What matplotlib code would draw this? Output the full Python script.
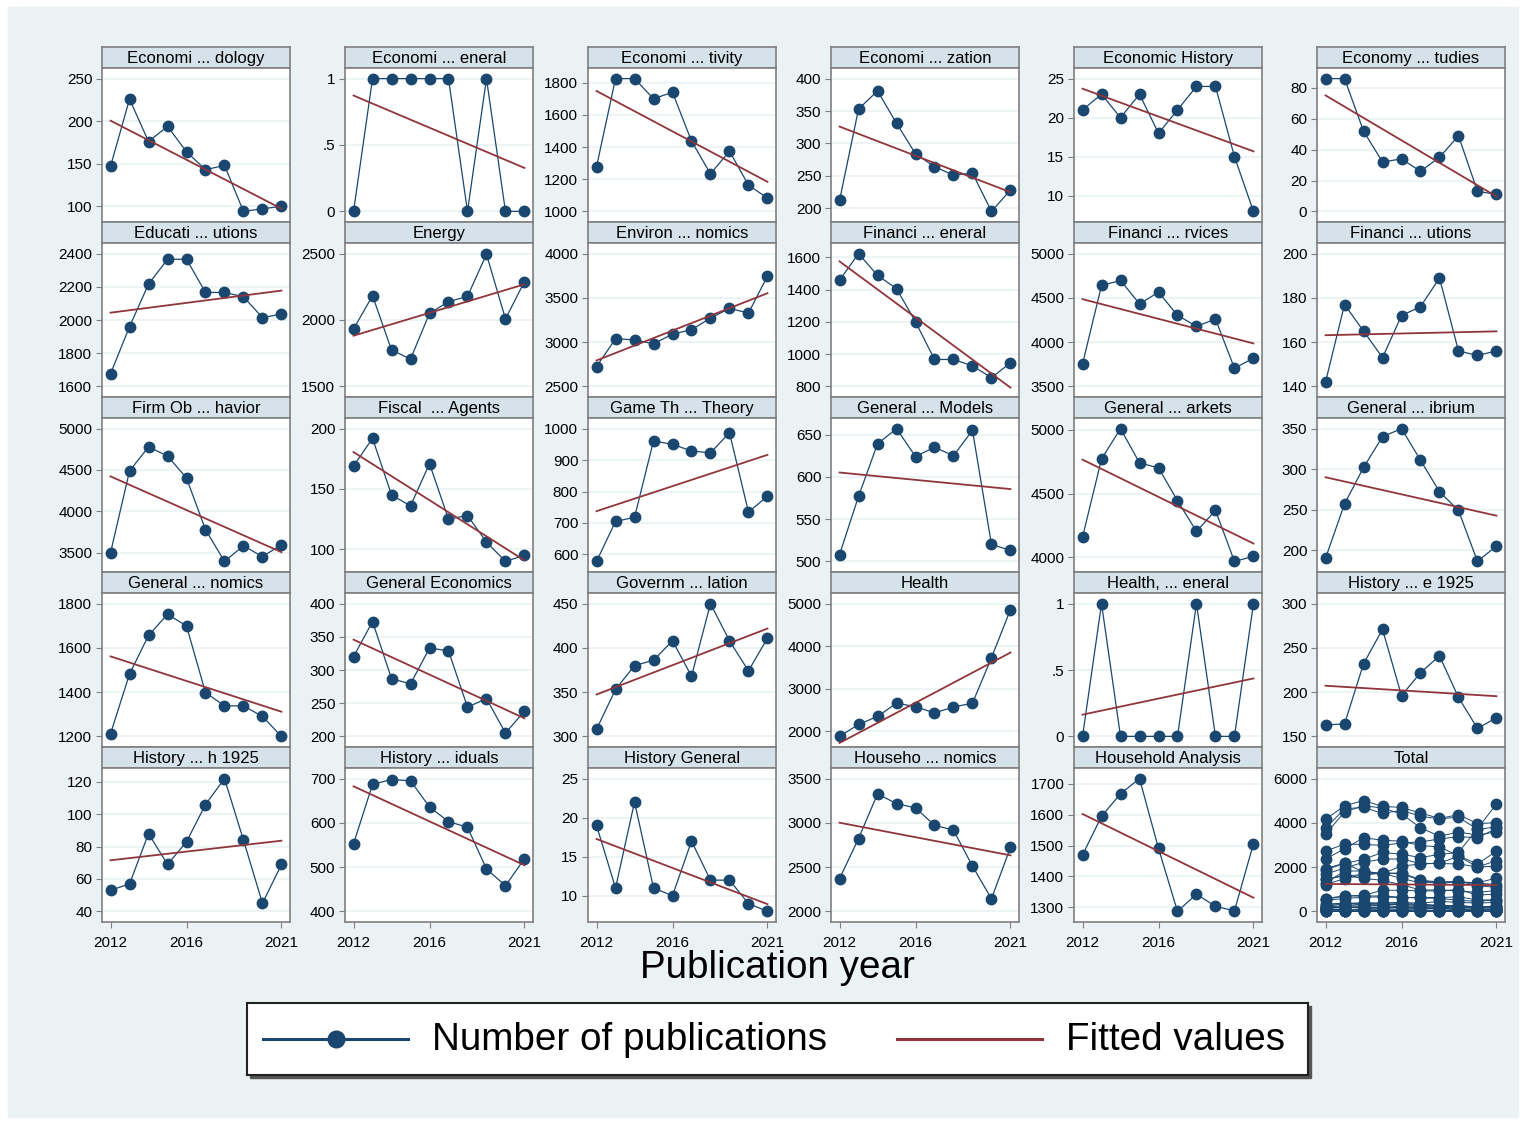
import numpy as np
import matplotlib.pyplot as plt
from matplotlib.patches import Rectangle

plt.rcParams['font.family'] = ['Liberation Sans', 'DejaVu Sans']

# publication years
years = np.arange(2012, 2022)

# panel titles (as shown in the strips)
titles = [
    "Economi ... dology", "Economi ... eneral", "Economi ... tivity",
    "Economi ... zation", "Economic History", "Economy ... tudies",
    "Educati ... utions", "Energy", "Environ ... nomics",
    "Financi ... eneral", "Financi ... rvices", "Financi ... utions",
    "Firm Ob ... havior", "Fiscal  ... Agents", "Game Th ... Theory",
    "General ... Models", "General ... arkets", "General ... ibrium",
    "General ... nomics", "General Economics", "Governm ... lation",
    "Health", "Health, ... eneral", "History ... e 1925",
    "History ... h 1925", "History ... iduals", "History General",
    "Househo ... nomics", "Household Analysis", "Total",
]

# number of publications per year, one list per field
econ_methodology = [147, 226, 176, 194, 164, 143, 148, 94, 97, 100]
econ_general = [0, 1, 1, 1, 1, 1, 0, 1, 0, 0]
econ_productivity = [1278, 1825, 1825, 1700, 1740, 1437, 1233, 1375, 1163, 1083]
econ_organization = [212, 353, 381, 331, 284, 264, 251, 254, 195, 228]
econ_history = [21, 23, 20, 23, 18, 21, 24, 24, 15, 8]
economy_studies = [86, 86, 52, 32, 34, 26, 35, 49, 13, 11]
education = [1676, 1960, 2216, 2366, 2366, 2166, 2166, 2140, 2014, 2036]
energy = [1932, 2183, 1774, 1706, 2050, 2138, 2178, 2495, 2008, 2289]
environ = [2724, 3038, 3026, 2981, 3091, 3140, 3272, 3380, 3329, 3746]
fin_general = [1458, 1623, 1488, 1406, 1200, 967, 967, 927, 854, 946]
fin_services = [3754, 4640, 4697, 4432, 4564, 4303, 4178, 4261, 3705, 3819]
fin_institutions = [142, 177, 165, 153, 172, 176, 189, 156, 154, 156]
firm_behavior = [3500, 4488, 4778, 4670, 4402, 3779, 3395, 3584, 3452, 3597]
fiscal_agents = [169, 192, 145, 136, 171, 125, 128, 106, 90, 95]
game_theory = [578, 705, 718, 961, 950, 929, 923, 987, 735, 785]
gen_models = [508, 577, 639, 657, 624, 635, 625, 655, 520, 513]
gen_markets = [4160, 4772, 5010, 4741, 4702, 4445, 4204, 4369, 3969, 4008]
gen_equilibrium = [190, 257, 302, 340, 350, 311, 272, 249, 186, 205]
gen_nomics = [1212, 1482, 1656, 1752, 1699, 1398, 1338, 1338, 1290, 1200]
general_economics = [320, 373, 287, 279, 333, 329, 244, 257, 205, 238]
gov_regulation = [308, 353, 380, 386, 408, 368, 450, 408, 374, 411]
health = [1885, 2164, 2353, 2664, 2582, 2435, 2574, 2664, 3730, 4860]
health_general = [0, 1, 0, 0, 0, 0, 1, 0, 0, 1]
history_e1925 = [163, 164, 232, 271, 196, 222, 241, 194, 159, 171]
history_h1925 = [53, 57, 88, 69, 83, 106, 122, 84, 45, 69]
history_individuals = [553, 687, 698, 695, 636, 603, 590, 496, 458, 519]
history_general = [19, 11, 22, 11, 10, 17, 12, 12, 9, 8]
household_econ = [2370, 2823, 3327, 3218, 3169, 2974, 2917, 2511, 2143, 2723]
household_analysis = [1470, 1595, 1668, 1717, 1491, 1287, 1343, 1303, 1289, 1506]

series = [
    econ_methodology, econ_general, econ_productivity, econ_organization,
    econ_history, economy_studies, education, energy, environ, fin_general,
    fin_services, fin_institutions, firm_behavior, fiscal_agents, game_theory,
    gen_models, gen_markets, gen_equilibrium, gen_nomics, general_economics,
    gov_regulation, health, health_general, history_e1925, history_h1925,
    history_individuals, history_general, household_econ, household_analysis,
]

# y ticks of each panel
yticks = [
    [100, 150, 200, 250], [0, .5, 1], [1000, 1200, 1400, 1600, 1800],
    [200, 250, 300, 350, 400], [10, 15, 20, 25], [0, 20, 40, 60, 80],
    [1600, 1800, 2000, 2200, 2400], [1500, 2000, 2500], [2500, 3000, 3500, 4000],
    [800, 1000, 1200, 1400, 1600], [3500, 4000, 4500, 5000], [140, 160, 180, 200],
    [3500, 4000, 4500, 5000], [100, 150, 200], [600, 700, 800, 900, 1000],
    [500, 550, 600, 650], [4000, 4500, 5000], [200, 250, 300, 350],
    [1200, 1400, 1600, 1800], [200, 250, 300, 350, 400], [300, 350, 400, 450],
    [2000, 3000, 4000, 5000], [0, .5, 1], [150, 200, 250, 300],
    [40, 60, 80, 100, 120], [400, 500, 600, 700], [10, 15, 20, 25],
    [2000, 2500, 3000, 3500], [1300, 1400, 1500, 1600, 1700], [0, 2000, 4000, 6000],
]
xticks = [2012, 2016, 2021]

NAVY = "#1A476F"
MAROON = "#90353B"
BG = "#EAF2F3"
STRIP = "#D6E2E9"
EDGE = "#7F7F7F"

W, H = 1526, 1122
fig = plt.figure(figsize=(W / 100, H / 100), dpi=100)
fig.patches.append(Rectangle((8 / W, 1 - 1117 / H), 1510 / W, 1110 / H,
                             transform=fig.transFigure, color=BG, zorder=-10))


def px(x0, y0, x1, y1):
    return [x0 / W, 1 - y1 / H, (x1 - x0) / W, (y1 - y0) / H]


def ylab(v):
    if v == 0.5:
        return ".5"
    return str(int(v))


for i, title in enumerate(titles):
    r, c = divmod(i, 6)
    x0 = 102 + 243 * c
    top = 47 + 175 * r

    # strip
    sax = fig.add_axes(px(x0, top, x0 + 188, top + 21))
    sax.set_facecolor(STRIP)
    sax.set_xticks([])
    sax.set_yticks([])
    for s in sax.spines.values():
        s.set_color(EDGE)
        s.set_linewidth(1.2)
    sax.text(0.5, 0.45, title, ha="center", va="center", fontsize=12,
             transform=sax.transAxes)

    ax = fig.add_axes(px(x0, top + 21, x0 + 188, top + 175))
    ax.set_facecolor("white")

    if title == "Total":
        for s_ in series:
            ax.plot(years, s_, color=NAVY, lw=0.7, marker="o", ms=7.5, zorder=3)
        allx = np.tile(years, len(series))
        ally = np.concatenate([np.array(s_, float) for s_ in series])
        coef = np.polyfit(allx, ally, 1)
        ydata = ally
    else:
        y = np.array(series[i], float)
        ax.plot(years, y, color=NAVY, lw=0.9, marker="o", ms=7.5, zorder=3)
        coef = np.polyfit(years, y, 1)
        ydata = y
    ax.plot(years, np.polyval(coef, years), color=MAROON, lw=1.3, zorder=4)

    t = yticks[i]
    lo = min(t[0], ydata.min())
    hi = max(t[-1], ydata.max())
    pad = 0.08 * (hi - lo)
    ax.set_ylim(lo - pad, hi + pad)
    ax.set_xlim(2012 - 0.45, 2021 + 0.45)
    ax.set_yticks(t)
    ax.set_yticklabels([ylab(v) for v in t], fontsize=11)
    ax.grid(axis="y", color=BG, lw=1.2)
    ax.set_axisbelow(True)
    ax.tick_params(axis="y", length=4, color=EDGE, pad=3)
    ax.set_xticks(xticks)
    if r == 4:
        ax.set_xticklabels([str(v) for v in xticks], fontsize=11)
        ax.tick_params(axis="x", length=4, color=EDGE, pad=6)
    else:
        ax.tick_params(axis="x", length=0, labelbottom=False)
    for s in ax.spines.values():
        s.set_color(EDGE)
        s.set_linewidth(1.2)

fig.text(777 / W, 1 - 968 / H, "Publication year", ha="center", va="center",
         fontsize=27.8)

# legend box
fig.patches.append(Rectangle((250 / W, 1 - 1078 / H), 1061 / W, 72 / H,
                             transform=fig.transFigure, color="#555555", zorder=5))
lax = fig.add_axes(px(247, 1003, 1308, 1075))
lax.set_zorder(6)
lax.set_xlim(247, 1308)
lax.set_ylim(1075, 1003)
lax.set_facecolor("white")
lax.set_xticks([])
lax.set_yticks([])
for s in lax.spines.values():
    s.set_color("#222222")
    s.set_linewidth(1.5)
lax.plot([263, 408], [1039, 1039], color=NAVY, lw=2.2)
lax.plot([336], [1039], color=NAVY, marker="o", ms=12)
lax.text(432, 1040, "Number of publications", fontsize=27.8, va="center")
lax.plot([897, 1042], [1039, 1039], color=MAROON, lw=2.2)
lax.text(1066, 1040, "Fitted values", fontsize=27.8, va="center")

fig.savefig("out.png", dpi=100)
